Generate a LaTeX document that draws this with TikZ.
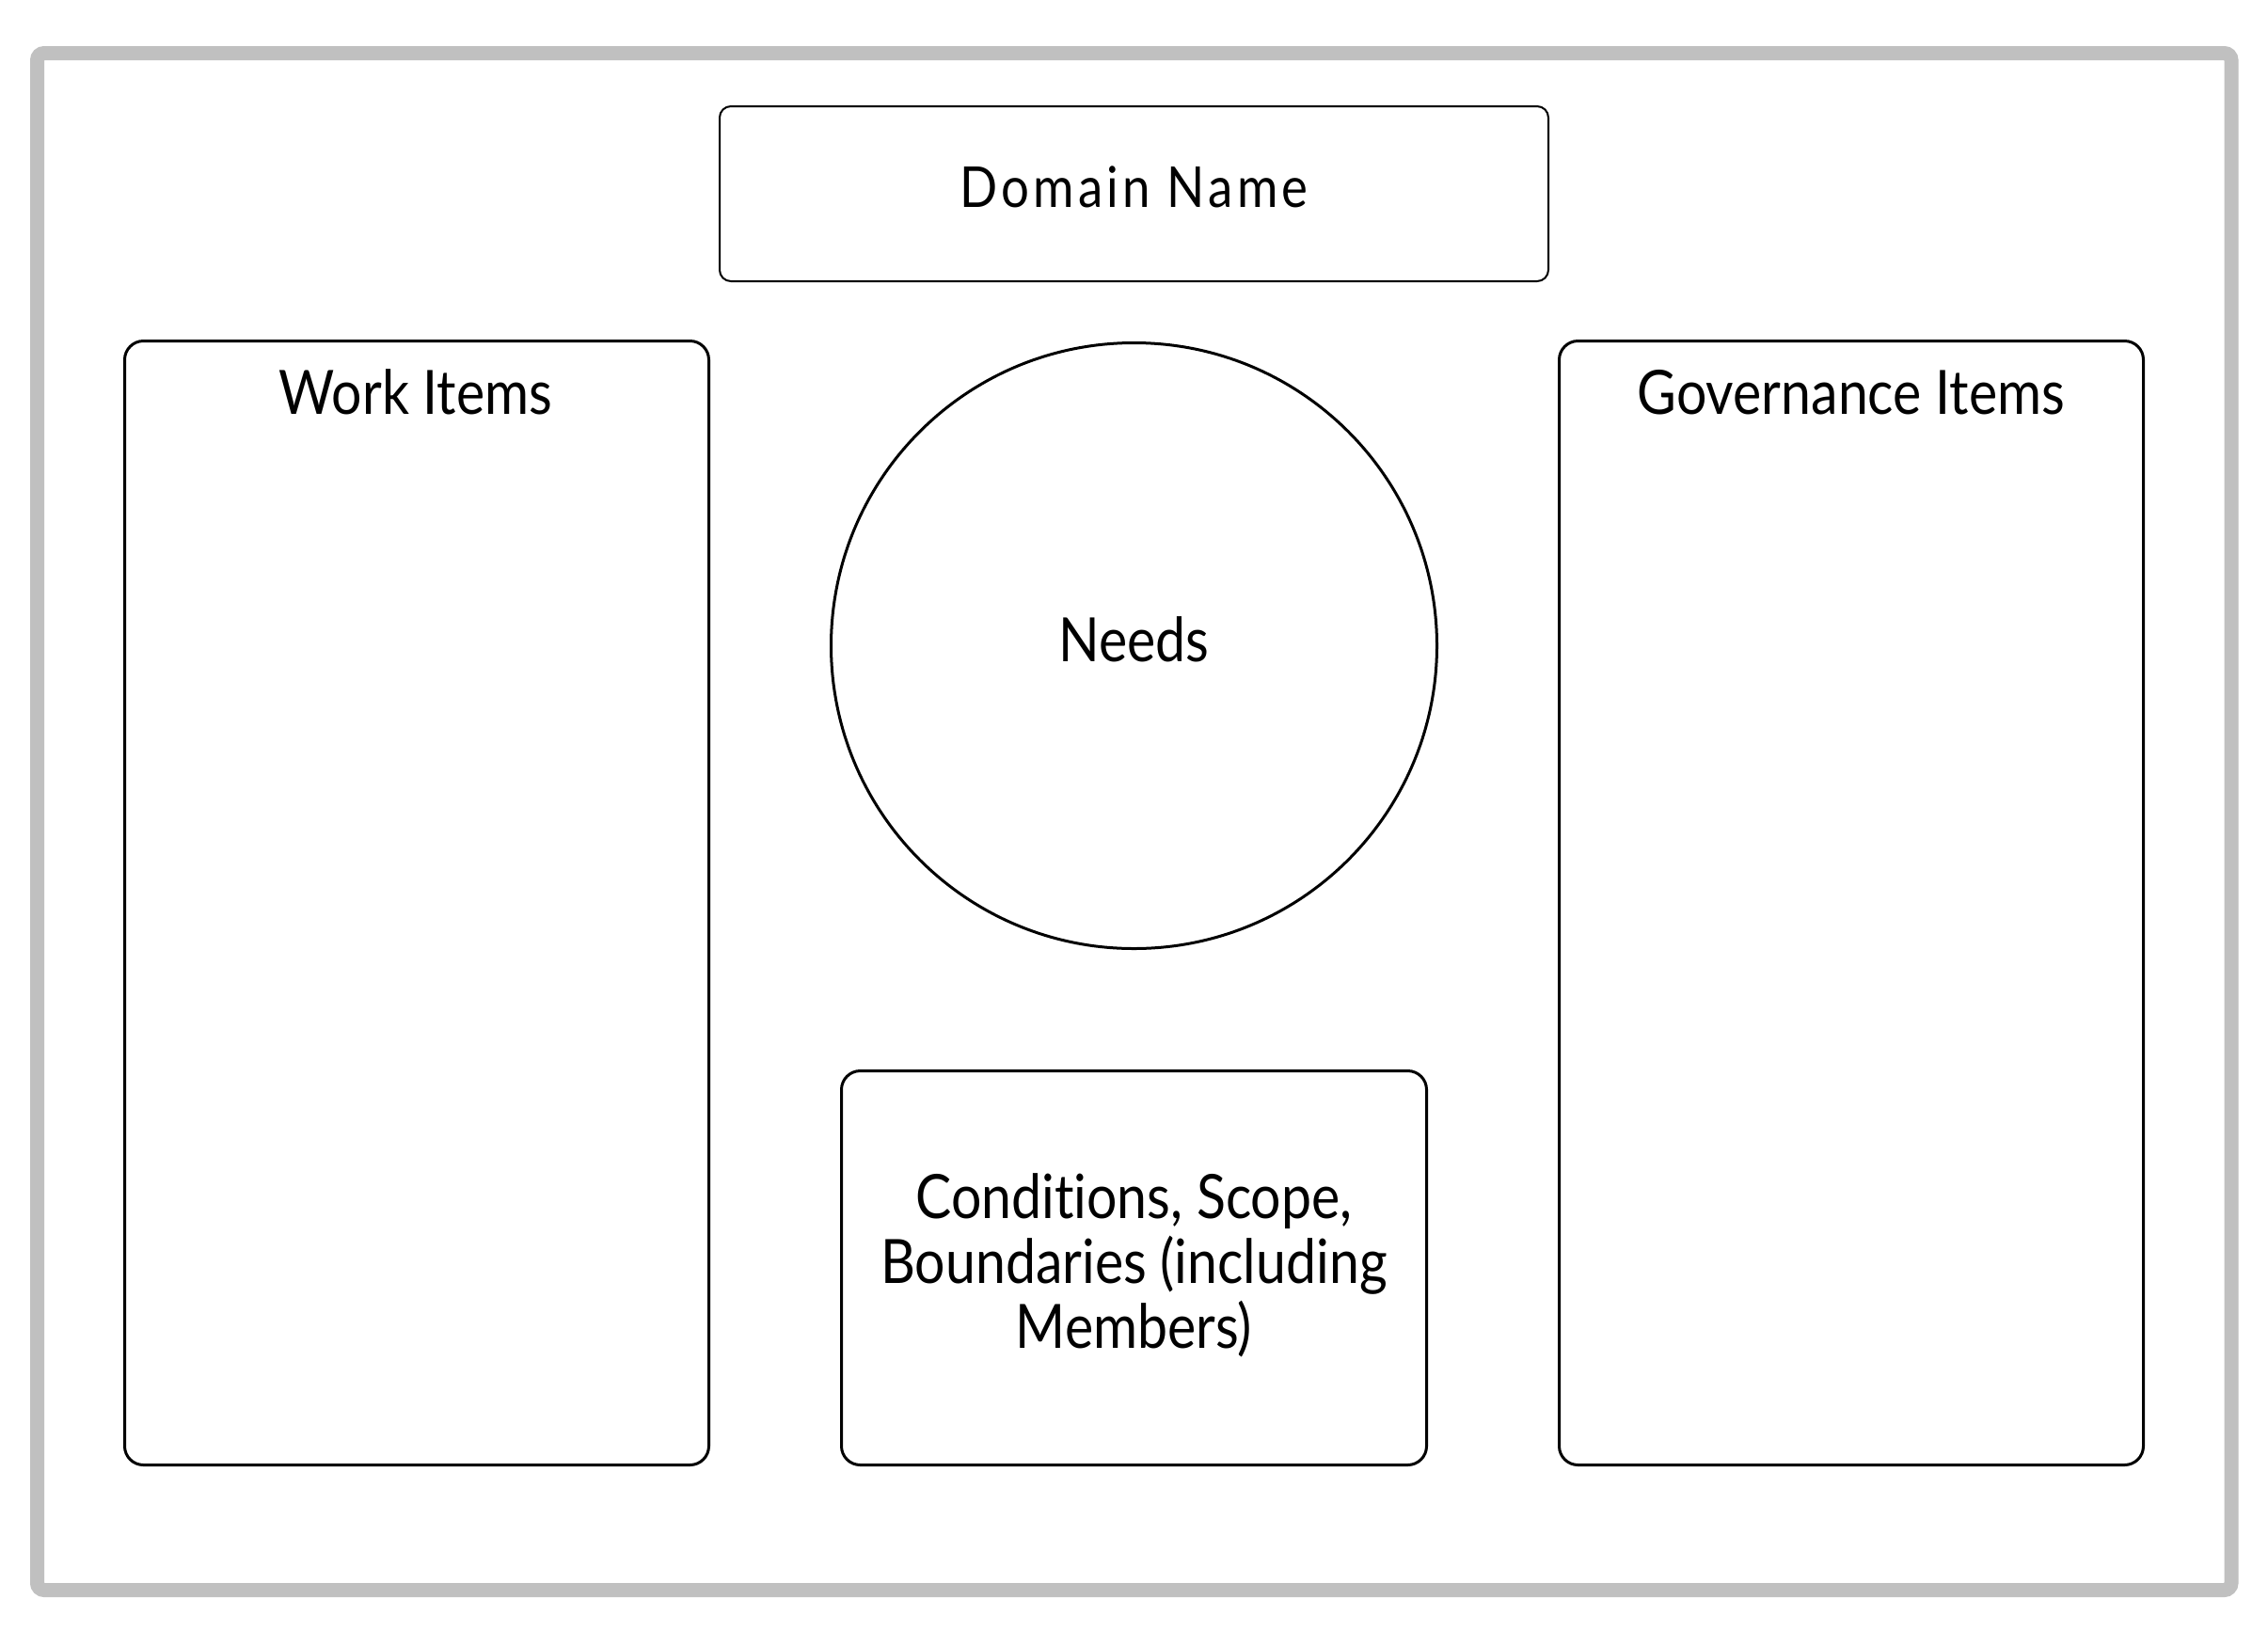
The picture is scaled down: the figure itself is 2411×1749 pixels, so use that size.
\documentclass[tikz,border=0pt]{standalone}
\usepackage{fontspec}
\setmainfont[FakeStretch=0.88,Ligatures=NoCommon]{Lato}
\newfontfamily\domfont[FakeStretch=0.88,LetterSpace=7,Ligatures=NoCommon]{Lato}
\definecolor{framegray}{RGB}{192,192,192}
\begin{document}
\begin{tikzpicture}[x=1pt,y=-1pt,
  frame/.style={draw=framegray,line width=15pt,rounded corners=7.5pt},
  box/.style={draw=black,line width=3pt,rounded corners=20pt,rectangle,inner sep=0pt},
  thinbox/.style={draw=black,line width=2pt,rounded corners=12pt,rectangle,inner sep=0pt},
  lbl/.style={inner sep=0pt,font=\fontsize{65}{69}\selectfont},
  domlbl/.style={inner sep=0pt,font=\domfont\fontsize{60}{66}\selectfont}]
\useasboundingbox (0,0) rectangle (2411,1749);
\fill[white] (0,0) rectangle (2411,1749);
\draw[frame] (39.5,56.5) rectangle (2372,1690.5);
% boxes
\node[thinbox,minimum width=881pt,minimum height=186pt] (domain) at (1205.5,206) {};
\node[box,minimum width=621pt,minimum height=1195pt] (work) at (443,960) {};
\node[box,minimum width=621pt,minimum height=1195pt] (gov) at (1968,960) {};
\node[box,minimum width=622pt,minimum height=419pt] (cond) at (1205.5,1348) {};
\node[circle,draw=black,line width=3pt,minimum size=644pt,inner sep=0pt] (needs) at (1205.5,686.5) {};
% labels
\node[domlbl,anchor=base] (domainlbl) at (1205.5,220) {Domain Name};
\node[lbl,anchor=base] (worklbl) at (442,440) {Work Items};
\node[lbl,anchor=base] (govlbl) at (1968,440) {Governance Items};
\node[lbl,anchor=base] (needslbl) at (1205.5,703) {Needs};
\node[lbl,align=center,anchor=center] (condlbl) at (1205.5,1345) {Conditions, Scope,\\Boundaries (including\\Members)};
\end{tikzpicture}
\end{document}
